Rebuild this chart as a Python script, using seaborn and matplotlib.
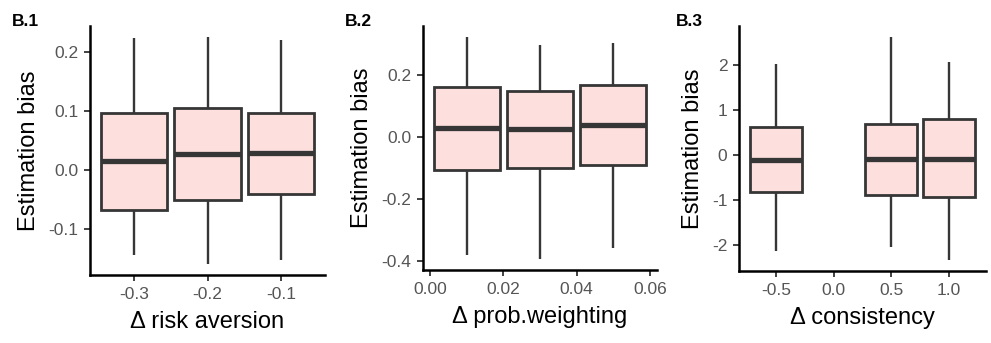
import numpy as np
import pandas as pd
import matplotlib.pyplot as plt
import seaborn as sns

# Five-number summaries: low whisker, Q1, median, Q3, high whisker
risk_x = [-0.3, -0.2, -0.1]
risk_low = [-0.145, -0.159, -0.152]
risk_q1 = [-0.068, -0.051, -0.040]
risk_med = [0.015, 0.027, 0.029]
risk_q3 = [0.097, 0.105, 0.097]
risk_high = [0.223, 0.225, 0.220]

prob_x = [0.01, 0.03, 0.05]
prob_low = [-0.380, -0.392, -0.358]
prob_q1 = [-0.105, -0.100, -0.089]
prob_med = [0.029, 0.026, 0.040]
prob_q3 = [0.161, 0.150, 0.168]
prob_high = [0.323, 0.299, 0.304]

cons_x = [-0.5, 0.5, 1.0]
cons_low = [-2.12, -2.03, -2.32]
cons_q1 = [-0.82, -0.87, -0.93]
cons_med = [-0.09, -0.07, -0.07]
cons_q3 = [0.64, 0.71, 0.80]
cons_high = [2.03, 2.63, 2.07]

panel_labels = ["B.1", "B.2", "B.3"]
x_titles = ["\u0394 risk aversion", "\u0394 prob.weighting", "\u0394 consistency"]
x_ticks = [[-0.3, -0.2, -0.1], [0.00, 0.02, 0.04, 0.06], [-0.5, 0.0, 0.5, 1.0]]
x_ticklabels = [["-0.3", "-0.2", "-0.1"], ["0.00", "0.02", "0.04", "0.06"],
                ["-0.5", "0.0", "0.5", "1.0"]]
y_ticks = [[-0.1, 0.0, 0.1, 0.2], [-0.4, -0.2, 0.0, 0.2], [-2, -1, 0, 1, 2]]
y_ticklabels = [["-0.1", "0.0", "0.1", "0.2"], ["-0.4", "-0.2", "0.0", "0.2"],
                ["-2", "-1", "0", "1", "2"]]


def summary_frame(xs, low, q1, med, q3, high):
    # five points per group -> quartiles by linear interpolation hit the summary exactly
    rows = []
    for i, x in enumerate(xs):
        for v in (low[i], q1[i], med[i], q3[i], high[i]):
            rows.append({"x": x, "bias": v})
    return pd.DataFrame(rows)


frames = [
    summary_frame(risk_x, risk_low, risk_q1, risk_med, risk_q3, risk_high),
    summary_frame(prob_x, prob_low, prob_q1, prob_med, prob_q3, prob_high),
    summary_frame(cons_x, cons_low, cons_q1, cons_med, cons_q3, cons_high),
]

sns.set_style("white")
plt.rcParams["font.family"] = ["Liberation Sans", "DejaVu Sans"]

W, H = 991, 343
fig = plt.figure(figsize=(W / 100, H / 100), dpi=100)

# axes boxes in pixels: left, right, top, bottom
boxes = [(90, 325, 26, 275), (423, 657, 26, 270), (739, 986, 26, 271)]
label_pos = [(12, 21), (345, 21), (676, 21)]

fill = "#FDDFDE"
edge = "#363636"

for i, df in enumerate(frames):
    l, r, t, b = boxes[i]
    ax = fig.add_axes([l / W, 1 - b / H, (r - l) / W, (b - t) / H])
    sns.boxplot(data=df, x="x", y="bias", native_scale=True, whis=np.inf,
                width=0.9, color=fill, saturation=1, ax=ax,
                linewidth=2.0, linecolor=edge,
                medianprops={"linewidth": 3.8, "color": edge},
                whiskerprops={"linewidth": 1.7, "color": edge},
                capprops={"linewidth": 0})
    for p in ax.patches:
        p.set_facecolor(fill)
        p.set_edgecolor(edge)

    xs = sorted(df["x"].unique())
    step = min(np.diff(xs))
    x0 = xs[0] - 0.45 * step
    x1 = xs[-1] + 0.45 * step
    pad = (x1 - x0) * 0.05
    ax.set_xlim(x0 - pad, x1 + pad)
    y0, y1 = df["bias"].min(), df["bias"].max()
    ypad = (y1 - y0) * 0.05
    ax.set_ylim(y0 - ypad, y1 + ypad)

    ax.set_xticks(x_ticks[i])
    ax.set_xticklabels(x_ticklabels[i])
    ax.set_yticks(y_ticks[i])
    ax.set_yticklabels(y_ticklabels[i])
    ax.tick_params(axis="both", labelsize=12.5, labelcolor="#555555",
                   color="#333333", length=4.3, width=1.3, direction="out",
                   bottom=True, left=True, pad=4)
    for side in ("top", "right"):
        ax.spines[side].set_visible(False)
    for side in ("left", "bottom"):
        ax.spines[side].set_color("black")
        ax.spines[side].set_linewidth(1.8)

    ax.set_xlabel(x_titles[i], fontsize=17, color="black", labelpad=7)
    ax.set_ylabel("Estimation bias", fontsize=17, color="black", labelpad=6)

    fig.text(label_pos[i][0] / W, 1 - label_pos[i][1] / H, panel_labels[i],
             fontsize=12.5, fontweight="bold", color="black", va="center")

fig.savefig("out.png", dpi=100)
